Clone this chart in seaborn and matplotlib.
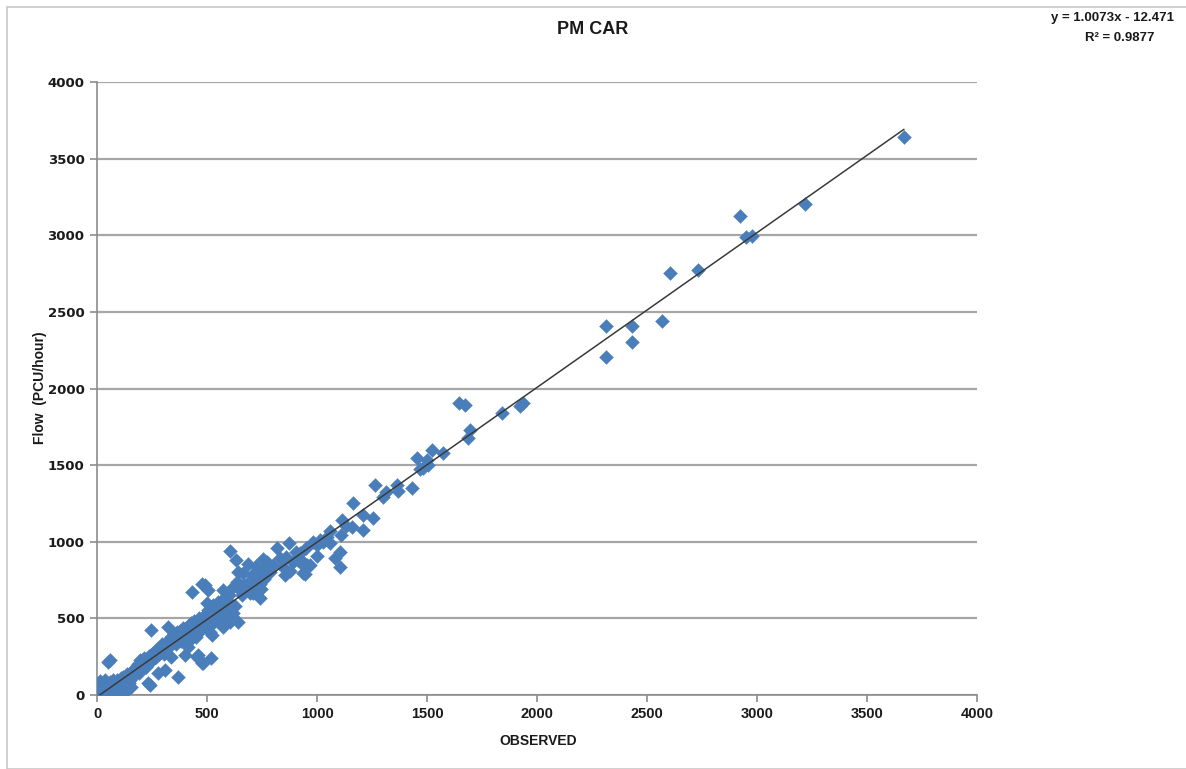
import numpy as np
import pandas as pd
import matplotlib
matplotlib.use("Agg")
import matplotlib.pyplot as plt
import seaborn as sns
from matplotlib.patches import Rectangle

# ---- data ----
observed = [
    0, 3, 5, 8, 10, 12, 15, 18, 20, 22, 25, 28, 30, 33, 35, 38, 40, 42, 45, 48,
    50, 59, 52, 55, 58, 60, 63, 65, 68, 70, 72, 75, 78, 80, 82, 85, 88, 90, 92, 95,
    98, 100, 105, 108, 109, 112, 115, 118, 120, 125, 127, 130, 133, 135, 138, 141, 145, 148, 150, 155,
    158, 160, 164, 168, 170, 175, 180, 185, 190, 195, 200, 205, 210, 215, 220, 223, 228, 232, 235, 241,
    240, 245, 250, 255, 260, 265, 268, 272, 277, 280, 285, 290, 295, 300, 305, 309, 309, 312, 318, 323,
    325, 330, 336, 338, 342, 348, 352, 358, 362, 368, 370, 375, 380, 386, 390, 395, 400, 403, 409, 412,
    414, 418, 423, 425, 430, 432, 436, 440, 445, 450, 455, 459, 462, 468, 470, 477, 477, 480, 482, 487,
    491, 495, 500, 500, 505, 505, 510, 514, 514, 518, 520, 523, 527, 527, 532, 538, 545, 548, 552, 559,
    559, 565, 573, 573, 573, 578, 582, 585, 591, 595, 600, 605, 605, 605, 610, 618, 618, 625, 630, 636,
    641, 641, 645, 650, 650, 660, 664, 670, 682, 686, 696, 705, 705, 709, 715, 723, 730, 741, 741, 745,
    750, 755, 755, 760, 773, 777, 785, 800, 818, 832, 845, 855, 860, 873, 877, 891, 905, 915, 923, 927,
    936, 941, 945, 950, 955, 968, 982, 1000, 1000, 1014, 1027, 1044, 1059, 1059, 1082, 1105, 1105, 1109, 1114, 1130,
    1159, 1164, 1209, 1209, 1255, 1264, 1300, 1313, 1364, 1368, 1432, 1455, 1468, 1482, 1500, 1504, 1523, 1573, 1645, 1672,
    1686, 1695, 1841, 1923, 1936, 2313, 2313, 2432, 2432, 2568, 2604, 2730, 2922, 2950, 2977, 3218, 3668,
]
modelled = [
    0, 15, 40, 5, 70, 25, 90, 0, 55, 10, 80, 35, 0, 60, 20, 95, 45, 5, 75, 30,
    215, 228, 0, 55, 15, 85, 40, 10, 65, 25, 100, 50, 5, 80, 13, 35, 60, 20, 95, 45,
    70, 10, 55, 110, 65, 30, 85, 50, 120, 75, 20, 40, 100, 140, 60, 111, 80, 130, 95, 52,
    150, 115, 150, 170, 130, 185, 160, 200, 145, 228, 175, 210, 190, 240, 200, 183, 225, 78, 255, 65,
    215, 424, 270, 235, 280, 250, 248, 300, 143, 265, 310, 285, 330, 300, 270, 163, 294, 340, 310, 444,
    360, 320, 248, 380, 345, 400, 360, 330, 410, 117, 380, 420, 350, 411, 440, 395, 261, 375, 424, 450,
    313, 410, 359, 470, 400, 672, 430, 485, 445, 380, 248, 261, 500, 455, 420, 724, 209, 510, 209, 470,
    718, 530, 600, 457, 685, 555, 490, 411, 555, 241, 575, 392, 587, 470, 520, 560, 535, 610, 500, 470,
    502, 590, 685, 509, 444, 540, 640, 620, 607, 560, 650, 600, 476, 940, 690, 535, 502, 580, 878, 737,
    476, 803, 700, 685, 718, 650, 796, 720, 724, 855, 666, 783, 672, 666, 740, 842, 770, 633, 724, 690,
    790, 887, 829, 760, 868, 835, 800, 850, 959, 894, 835, 783, 900, 992, 809, 868, 933, 880, 926, 881,
    796, 842, 790, 960, 848, 848, 998, 907, 980, 1011, 998, 1030, 1070, 992, 894, 835, 933, 1044, 1142, 1100,
    1096, 1253, 1175, 1077, 1155, 1370, 1292, 1325, 1370, 1330, 1350, 1546, 1475, 1481, 1533, 1500, 1599, 1579, 1905, 1892,
    1677, 1729, 1840, 1886, 1905, 2408, 2205, 2408, 2303, 2440, 2754, 2773, 3125, 2990, 2995, 3204, 3641,
]
axis_ticks = [0, 500, 1000, 1500, 2000, 2500, 3000, 3500, 4000]
title_text = "PM CAR"
x_label = "OBSERVED"
y_label = "Flow  (PCU/hour)"
equation_lines = ["y = 1.0073x - 12.471", "R² = 0.9877"]

df = pd.DataFrame({"observed": observed, "modelled": modelled})

sns.set_theme(style="white")
plt.rcParams["font.family"] = ["DejaVu Sans"]

W, H = 1186, 769
fig = plt.figure(figsize=(W / 100, H / 100), dpi=100)
ax = fig.add_axes([97 / W, 1 - 695 / H, 880 / W, 613 / H])

# chart frame
fig.patches.append(Rectangle((7 / W, 0.0), 1.2, 1 - 7 / H, transform=fig.transFigure,
                             fill=False, edgecolor="#c8c8c8", linewidth=1.2, zorder=0))

blue = "#4a7ebb"
sns.scatterplot(data=df, x="observed", y="modelled", marker="D", s=50, color=blue,
                edgecolor=blue, linewidth=0.3, ax=ax, zorder=3, legend=False)
sns.regplot(data=df, x="observed", y="modelled", scatter=False, ci=None, ax=ax,
            line_kws=dict(color="#3a3a3a", lw=1.1, zorder=4))

narrow = ["Liberation Sans Narrow", "Liberation Sans"]
ax.set_xlim(0, 4000)
ax.set_ylim(0, 4000)
ax.set_xticks(axis_ticks)
ax.set_yticks(axis_ticks)
ax.set_xticklabels([str(t) for t in axis_ticks],
                   fontdict=dict(family=narrow, weight="bold", size=10.5))
ax.set_yticklabels([str(t) for t in axis_ticks],
                   fontdict=dict(family="DejaVu Sans", weight="bold", size=9.5))
ax.yaxis.grid(True, color="#a6a6a6", lw=1.6)
ax.xaxis.grid(False)
ax.set_axisbelow(True)
for s in ["top", "right"]:
    ax.spines[s].set_visible(False)
for s in ["left", "bottom"]:
    ax.spines[s].set_color("#8c8c8c")
    ax.spines[s].set_linewidth(1.2)
ax.tick_params(axis="both", which="major", direction="out", length=5, width=1.2,
               color="#8c8c8c", labelcolor="#1a1a1a", bottom=True, left=True, pad=4)
ax.set_xlabel("")
ax.set_ylabel("")

fig.text(593 / W, 1 - 30 / H, title_text, ha="center", va="center", fontsize=13,
         fontweight="bold", family=narrow, color="#1a1a1a")
fig.text(538 / W, 1 - 741 / H, x_label, ha="center", va="center", fontsize=10,
         fontweight="bold", family=narrow, color="#1a1a1a")
fig.text(40 / W, 1 - 388 / H, y_label, ha="center", va="center", rotation=90, fontsize=10,
         fontweight="bold", family=narrow, color="#1a1a1a")
fig.text(1174 / W, 1 - 18 / H, equation_lines[0], ha="right", va="center", fontsize=9.5,
         fontweight="bold", family=narrow, color="#1a1a1a")
fig.text(1120 / W, 1 - 38 / H, equation_lines[1], ha="center", va="center", fontsize=9.5,
         fontweight="bold", family=narrow, color="#1a1a1a")

fig.savefig("out.png", dpi=100, facecolor="white")
